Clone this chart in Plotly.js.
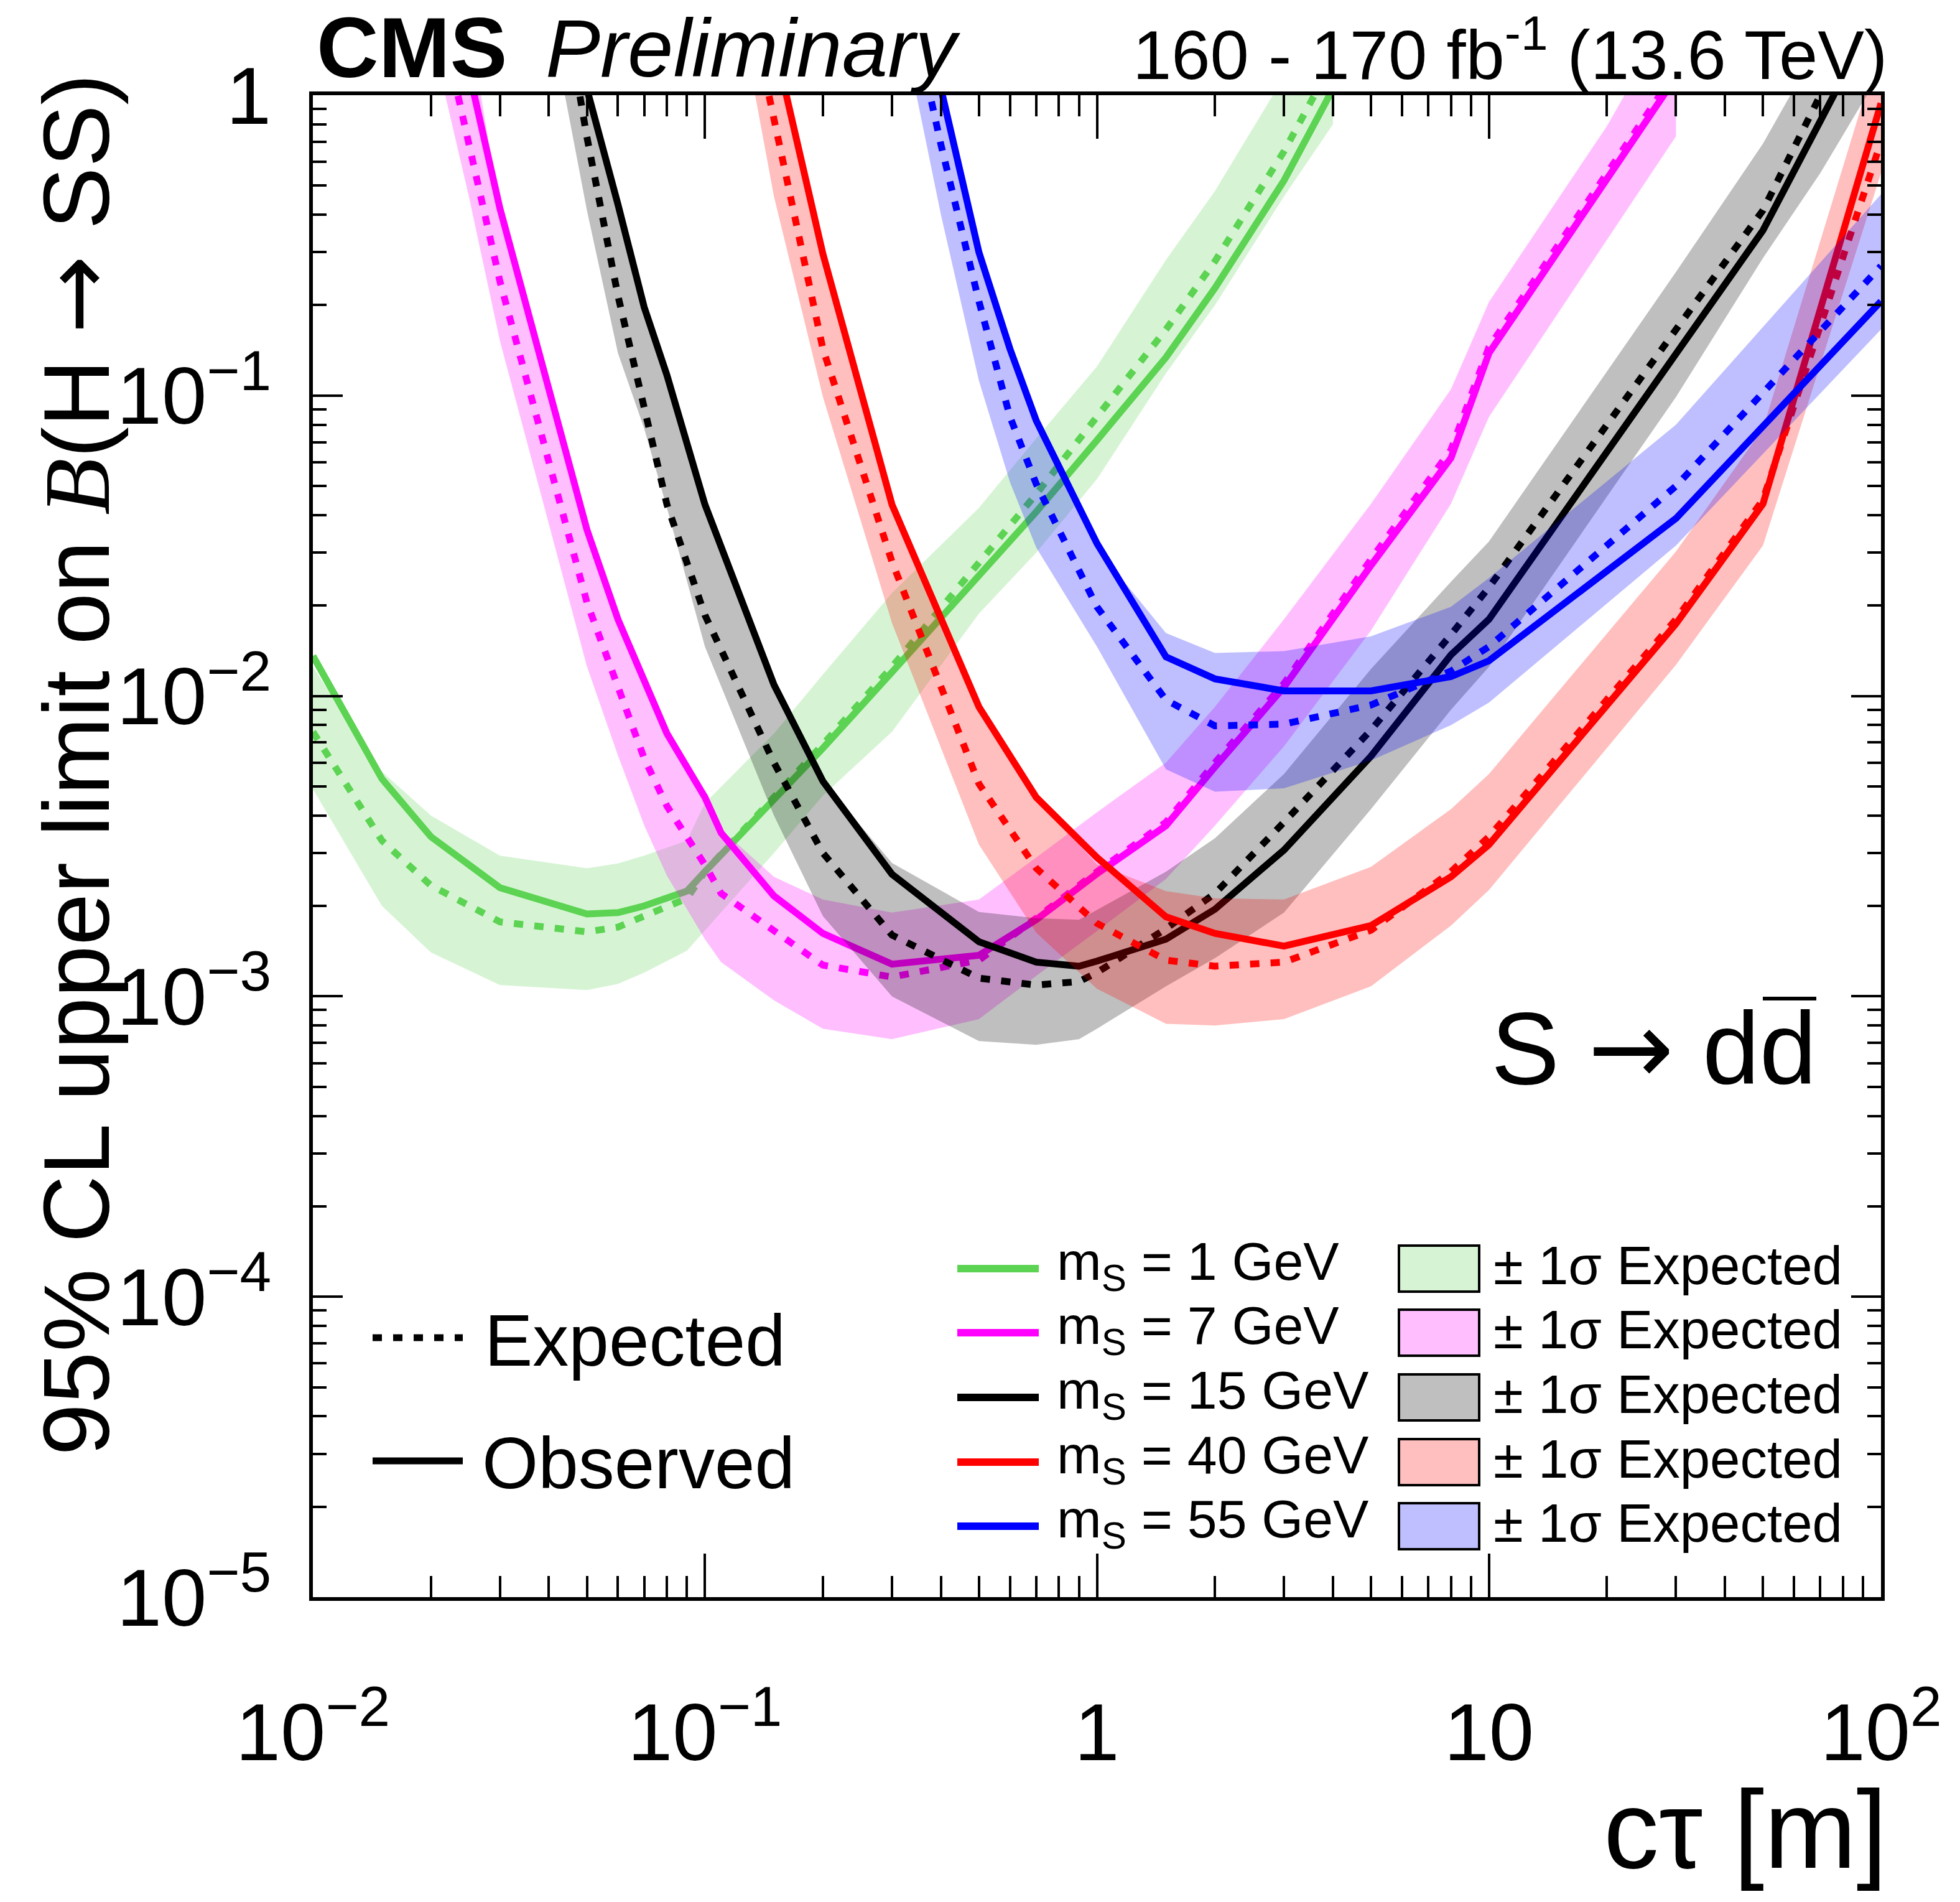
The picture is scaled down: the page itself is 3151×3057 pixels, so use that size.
<!DOCTYPE html>
<html>
<head>
<meta charset="utf-8">
<script src="https://cdn.plot.ly/plotly-3.0.1.min.js"></script>
<style>
  html, body { margin: 0; padding: 0; background: #fff; }
  #plot { width: 3151px; height: 3057px; }
</style>
</head>
<body>
<div id="plot"></div>
<script>
// c*tau points [m] and 95% CL limits, one set per scalar mass
const ct1  = [0.01, 0.015, 0.02, 0.03, 0.05, 0.06, 0.07, 0.09, 0.1, 0.15, 0.2, 0.3, 0.5, 0.7, 1, 1.5, 2, 3, 4];
const obs1 = [0.0136, 0.0053, 0.0034, 0.0023, 0.00188, 0.0019, 0.002, 0.00224, 0.0026, 0.0045, 0.0067, 0.012, 0.025, 0.041, 0.071, 0.134, 0.228, 0.52, 1.05];
const exp1 = [0.0076, 0.0033, 0.00234, 0.00177, 0.00164, 0.0017, 0.00185, 0.00212, 0.0026, 0.0046, 0.0069, 0.0125, 0.028, 0.047, 0.085, 0.166, 0.28, 0.65, 1.3];
const up1  = [0.0125, 0.0056, 0.004, 0.00294, 0.00267, 0.00277, 0.00294, 0.0033, 0.0044, 0.0075, 0.0118, 0.022, 0.0423, 0.072, 0.125, 0.283, 0.48, 1.15, 2.5];
const lo1  = [0.0049, 0.002, 0.0014, 0.00109, 0.00105, 0.0011, 0.0012, 0.00142, 0.00166, 0.003, 0.00466, 0.0076, 0.0188, 0.03, 0.0527, 0.1186, 0.2, 0.46, 0.8];

const ct7  = [0.02, 0.025, 0.03, 0.05, 0.06, 0.07, 0.08, 0.1, 0.11, 0.15, 0.2, 0.3, 0.5, 0.7, 1, 1.5, 2, 3, 5, 8, 10, 20, 30];
const obs7 = [3.0, 1.2, 0.42, 0.0358, 0.018, 0.0113, 0.0075, 0.0046, 0.0035, 0.00216, 0.00162, 0.00128, 0.00137, 0.0018, 0.00256, 0.0037, 0.0058, 0.0107, 0.0272, 0.062, 0.1385, 0.526, 1.15];
const exp7 = [2.5, 0.705, 0.24, 0.0205, 0.0105, 0.0062, 0.0043, 0.00274, 0.0022, 0.00165, 0.00127, 0.00116, 0.00132, 0.00182, 0.0026, 0.0038, 0.006, 0.011, 0.0285, 0.066, 0.145, 0.55, 1.2];
const up7  = [5, 1.8, 0.4, 0.034, 0.0175, 0.011, 0.0073, 0.0045, 0.0036, 0.0025, 0.0021, 0.0019, 0.0021, 0.0029, 0.0041, 0.006, 0.0092, 0.018, 0.0436, 0.105, 0.205, 0.79, 2.0];
const lo7  = [1.6, 0.46, 0.152, 0.01255, 0.00634, 0.00371, 0.00252, 0.00155, 0.0013, 0.00097, 0.00078, 0.00072, 0.00084, 0.00117, 0.00165, 0.00246, 0.0037, 0.0068, 0.0165, 0.0436, 0.085, 0.33, 0.73];

const ct15  = [0.04, 0.05, 0.06, 0.07, 0.08, 0.1, 0.15, 0.2, 0.3, 0.5, 0.7, 0.9, 1, 1.5, 2, 3, 5, 8, 10, 30, 50, 70, 100];
const obs15 = [6, 1.05, 0.433, 0.197, 0.117, 0.0434, 0.0109, 0.0052, 0.00255, 0.00152, 0.0013, 0.00126, 0.00131, 0.00155, 0.00195, 0.00307, 0.0063, 0.0137, 0.018, 0.1385, 0.355, 0.82, 2.0];
const exp15 = [4, 0.726, 0.215, 0.09, 0.0434, 0.0186, 0.006, 0.003, 0.0016, 0.00115, 0.00109, 0.00112, 0.0012, 0.00168, 0.0022, 0.0038, 0.0077, 0.016, 0.023, 0.166, 0.414, 1.0, 2.4];
const up15  = [8, 1.0, 0.42, 0.19, 0.11, 0.042, 0.0105, 0.0052, 0.00278, 0.00191, 0.00182, 0.0018, 0.00194, 0.0026, 0.00336, 0.0055, 0.0123, 0.024, 0.0327, 0.258, 0.69, 1.5, 3];
const lo15  = [1.9, 0.414, 0.1385, 0.0777, 0.0423, 0.0146, 0.004, 0.00185, 0.001, 0.00071, 0.00069, 0.00072, 0.00078, 0.00108, 0.00134, 0.0019, 0.0042, 0.009, 0.0125, 0.099, 0.287, 0.55, 1.2];

const ct40  = [0.1, 0.15, 0.2, 0.3, 0.5, 0.7, 1, 1.5, 2, 3, 5, 8, 10, 30, 50, 100];
const obs40 = [15, 1.56, 0.296, 0.0434, 0.0092, 0.0046, 0.0029, 0.00184, 0.00162, 0.00147, 0.00172, 0.0025, 0.0032, 0.0174, 0.0436, 0.94];
const exp40 = [10, 0.81, 0.143, 0.028, 0.0051, 0.00267, 0.00175, 0.00132, 0.00126, 0.0013, 0.00166, 0.0026, 0.0034, 0.018, 0.045, 0.7];
const up40  = [20, 1.4, 0.27, 0.041, 0.0088, 0.0046, 0.00275, 0.00224, 0.00212, 0.0021, 0.0027, 0.0042, 0.0055, 0.0303, 0.0777, 1.5];
const lo40  = [8, 0.46, 0.099, 0.0175, 0.0032, 0.00163, 0.00106, 0.00081, 0.0008, 0.00084, 0.00108, 0.00172, 0.00226, 0.0127, 0.0317, 0.55];

const ct55  = [0.3, 0.4, 0.5, 0.6, 0.7, 1, 1.5, 2, 3, 5, 8, 10, 30, 100];
const obs55 = [5.3, 1.05, 0.3, 0.143, 0.0826, 0.0322, 0.0135, 0.0114, 0.0104, 0.0104, 0.0116, 0.0131, 0.039, 0.206];
const exp55 = [3.8, 0.684, 0.206, 0.085, 0.0508, 0.0198, 0.0097, 0.00795, 0.00806, 0.00933, 0.0121, 0.0146, 0.05, 0.27];
const up55  = [6, 1.0, 0.29, 0.14, 0.08, 0.031, 0.0162, 0.0139, 0.0141, 0.0158, 0.0198, 0.0247, 0.08, 0.468];
const lo55  = [2.5, 0.4, 0.112, 0.0515, 0.0312, 0.0146, 0.0057, 0.0048, 0.00493, 0.0061, 0.008, 0.0095, 0.0317, 0.166];

const massLabels = ['1', '7', '15', '40', '55'];
const xTickVals = [0.01, 0.1, 1, 10, 100];
const xTickText = ['10<sup>\u22122</sup>', '10<sup>\u22121</sup>', '1', '10', '10<sup>2</sup>'];
const yTickVals = [1e-5, 1e-4, 1e-3, 1e-2, 1e-1, 1];
const yTickText = ['10<sup>\u22125</sup>', '10<sup>\u22124</sup>', '10<sup>\u22123</sup>', '10<sup>\u22122</sup>', '10<sup>\u22121</sup>', '1'];

const FONT = 'Liberation Sans, Arial, sans-serif';
const ARROW = '<span style="font-family:DejaVu Sans">\u2192</span>';
const W = 3151, H = 3057;
const L = 503, R = 3024, T = 153, B = 2567;

// page pixel -> paper coords
function px(ox) { return (ox - L) / (R - L); }
function py(oy) { return (B - oy) / (B - T); }

const sets = [
  {ct: ct1,  obs: obs1,  exp: exp1,  up: up1,  lo: lo1,  color: '#5cd352', band: 'rgba(92,211,82,0.25)'},
  {ct: ct7,  obs: obs7,  exp: exp7,  up: up7,  lo: lo7,  color: '#ff00ff', band: 'rgba(255,0,255,0.25)'},
  {ct: ct15, obs: obs15, exp: exp15, up: up15, lo: lo15, color: '#000000', band: 'rgba(0,0,0,0.25)'},
  {ct: ct40, obs: obs40, exp: exp40, up: up40, lo: lo40, color: '#ff0000', band: 'rgba(255,0,0,0.25)'},
  {ct: ct55, obs: obs55, exp: exp55, up: up55, lo: lo55, color: '#0000ff', band: 'rgba(0,0,255,0.25)'}
];

const LW = 11;
const DOT = '15px,18px';
let data = [];
sets.forEach(s => {
  data.push({
    x: s.ct.concat(s.ct.slice().reverse()),
    y: s.up.concat(s.lo.slice().reverse()),
    mode: 'lines', fill: 'toself', fillcolor: s.band,
    line: {width: 0}, hoverinfo: 'skip'
  });
  data.push({x: s.ct, y: s.exp, mode: 'lines', line: {color: s.color, width: LW, dash: DOT}});
  data.push({x: s.ct, y: s.obs, mode: 'lines', line: {color: s.color, width: LW}});
});

function minorVals(lo, hi) {
  let v = [];
  for (let e = lo; e < hi; e++)
    for (let d = 2; d <= 9; d++) v.push(d * Math.pow(10, e));
  return v;
}

function ann(text, ox, oy, size, xanchor, extra) {
  return Object.assign({
    text: text, xref: 'paper', yref: 'paper', x: px(ox), y: py(oy),
    xanchor: xanchor, yanchor: 'middle', showarrow: false, borderpad: 0,
    font: {family: FONT, size: size, color: '#000'}
  }, extra || {});
}

let annotations = [
  ann('<b>CMS</b>', 508, 76, 138, 'left'),
  ann('<i>Preliminary</i>', 876, 78, 132, 'left'),
  ann('160 - 170 fb<sup>-1</sup> (13.6 TeV)', 3035, 80, 112, 'right'),
  ann('c\u03c4 [m]', 3035, 2940, 178, 'right'),
  ann('95% CL upper limit on <span style="font-family:Liberation Serif;font-style:italic">B</span>(H ' + ARROW + ' SS)',
      122, 118, 150, 'center', {textangle: -90, yanchor: 'top'}),
  ann('S ' + ARROW + ' dd', 2922, 1685, 165, 'right'),
  ann('Expected', 778, 2155, 116, 'left'),
  ann('Observed', 774, 2352, 116, 'left')
];

let shapes = [
  // bar over the second d
  {type: 'line', xref: 'paper', yref: 'paper', x0: px(2834), x1: px(2920), y0: py(1605), y1: py(1605),
   line: {color: '#000', width: 6}},
  {type: 'line', xref: 'paper', yref: 'paper', x0: px(599), x1: px(744), y0: py(2150), y1: py(2150),
   line: {color: '#000', width: LW, dash: DOT}},
  {type: 'line', xref: 'paper', yref: 'paper', x0: px(599), x1: px(744), y0: py(2348), y1: py(2348),
   line: {color: '#000', width: LW}}
];

const rowY = [2039, 2142, 2246, 2350, 2453];
sets.forEach((s, i) => {
  const y = rowY[i];
  shapes.push({type: 'line', xref: 'paper', yref: 'paper', x0: px(1539), x1: px(1670), y0: py(y), y1: py(y),
               line: {color: s.color, width: 12}});
  shapes.push({type: 'rect', xref: 'paper', yref: 'paper', x0: px(2249), x1: px(2378), y0: py(y + 37), y1: py(y - 37),
               fillcolor: s.band, line: {color: '#000', width: 4}});
  annotations.push(ann('m<sub>S</sub> = ' + massLabels[i] + ' GeV', 1698, y - 6, 86, 'left'));
  annotations.push(ann('\u00b1 1\u03c3 Expected', 2400, y - 6, 87, 'left'));
});

const axisCommon = {
  type: 'log', tickmode: 'array', ticks: 'inside', tickwidth: 4, tickcolor: '#000',
  showline: true, linewidth: 6, linecolor: '#000', mirror: 'ticks',
  showgrid: false, zeroline: false,
  tickfont: {family: FONT, size: 130, color: '#000'}
};

const layout = {
  width: W, height: H, autosize: false,
  margin: {l: L, r: W - R, t: T, b: H - B, pad: 0},
  paper_bgcolor: '#fff', plot_bgcolor: '#fff',
  showlegend: false,
  xaxis: Object.assign({}, axisCommon, {
    range: [-2, 2], tickvals: xTickVals, ticktext: xTickText, ticklen: 70,
    ticklabelstandoff: 100,
    minor: {tickmode: 'array', tickvals: minorVals(-2, 2), ticks: 'inside', ticklen: 34, tickwidth: 4, tickcolor: '#000', showgrid: false}
  }),
  yaxis: Object.assign({}, axisCommon, {
    range: [-5, 0], tickvals: yTickVals, ticktext: yTickText, ticklen: 48,
    ticklabelstandoff: 35,
    minor: {tickmode: 'array', tickvals: minorVals(-5, 0), ticks: 'inside', ticklen: 22, tickwidth: 4, tickcolor: '#000', showgrid: false}
  }),
  annotations: annotations,
  shapes: shapes
};

Plotly.newPlot('plot', data, layout, {staticPlot: true});
</script>
</body>
</html>
